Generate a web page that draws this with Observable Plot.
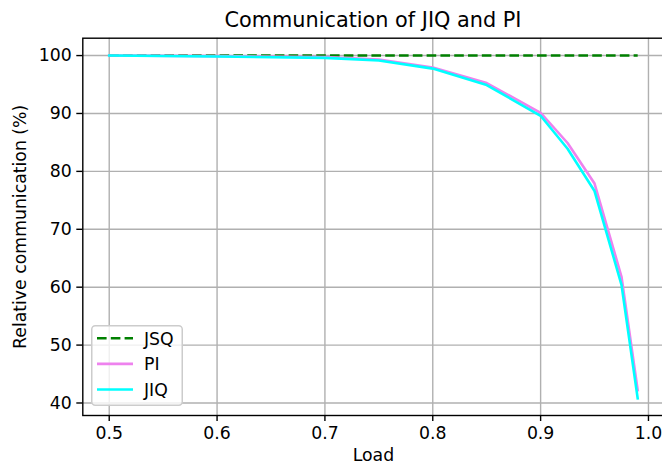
<!DOCTYPE html>
<html><head><meta charset="utf-8">
<script src="https://cdn.jsdelivr.net/npm/d3@7"></script>
<script src="https://cdn.jsdelivr.net/npm/@observablehq/plot@0.6"></script>
<style>
body{margin:0;background:#fff;}
#wrap{position:relative;width:662px;height:464px;font-family:"DejaVu Sans";overflow:hidden;}
#title{position:absolute;left:173px;width:400px;top:10px;text-align:center;font-size:20.8px;line-height:1;white-space:nowrap;}
#legend{position:absolute;left:91px;top:325px;}
</style></head><body>
<div id="wrap"><div id="chart"></div><div id="title">Communication of JIQ and PI</div><div id="legend"></div></div>
<script>
const load = [0.5, 0.6, 0.7, 0.75, 0.8, 0.85, 0.9, 0.925, 0.95, 0.975, 0.99];
const jsq  = [100.0, 100.0, 100.0, 100.0, 100.0, 100.0, 100.0, 100.0, 100.0, 100.0, 100.0];
const pi   = [100.0, 99.9, 99.75, 99.3, 97.95, 95.25, 90.1, 84.9, 77.9, 61.8, 42.2];
const jiq  = [100.0, 99.85, 99.6, 99.15, 97.75, 94.9, 89.6, 83.9, 76.6, 60.4, 40.8];
const seriesNames = ["JSQ", "PI", "JIQ"];
const seriesColors = ["green", "violet", "cyan"];
const seriesDash = ["9.6,4.2", "none", "none"];
const xTicks = [0.5, 0.6, 0.7, 0.8, 0.9, 1.0];
const yTicks = [40, 50, 60, 70, 80, 90, 100];

const seriesValues = [jsq, pi, jiq];
const rows = [];
seriesValues.forEach((vals, si) => vals.forEach((v, i) => rows.push({series: seriesNames[si], load: load[i], value: v})));

const lineMarks = seriesNames.map((name, si) => Plot.line(rows.filter(d => d.series === name), {
  x: "load", y: "value", stroke: seriesColors[si], strokeWidth: 2.6,
  strokeDasharray: seriesDash[si], strokeLinejoin: "round", strokeLinecap: si === 0 ? "butt" : "square"
}));

const chart = Plot.plot({
  width: 662, height: 464,
  marginTop: 37.7, marginBottom: 49, marginLeft: 82.3, marginRight: -1.6,
  style: {fontFamily: "DejaVu Sans", fontSize: "17.3px", color: "black", background: "white"},
  x: {domain: [0.4755, 1.0145]},
  y: {domain: [37.84, 103.0]},
  marks: [
    Plot.gridX(xTicks, {stroke: "#b0b0b0", strokeOpacity: 1, strokeWidth: 1.4}),
    Plot.gridY(yTicks, {stroke: "#b0b0b0", strokeOpacity: 1, strokeWidth: 1.4}),
    ...lineMarks,
    Plot.axisX({ticks: xTicks, tickSize: 6, tickPadding: 5, tickFormat: d => d.toFixed(1), strokeWidth: 1.4,
      label: "Load", labelAnchor: "center", labelArrow: "none", labelOffset: 45.5, fontSize: 17.3}),
    Plot.axisY({ticks: yTicks, tickSize: 6, tickPadding: 5, tickFormat: d => String(d), strokeWidth: 1.4,
      label: "Relative communication (%)", labelAnchor: "center", labelArrow: "none", labelOffset: 69, fontSize: 17.3}),
    Plot.frame({stroke: "black", strokeWidth: 1.4})
  ]
});
document.getElementById("chart").appendChild(chart);

// legend
const lw = 92, lh = 81, fs = 17.3;
const ns = "http://www.w3.org/2000/svg";
const lsvg = document.createElementNS(ns, "svg");
lsvg.setAttribute("width", lw); lsvg.setAttribute("height", lh);
lsvg.style.display = "block";
const box = document.createElementNS(ns, "rect");
box.setAttribute("x", 0.75); box.setAttribute("y", 0.75);
box.setAttribute("width", lw - 1.5); box.setAttribute("height", lh - 1.5);
box.setAttribute("rx", 3.5);
box.setAttribute("fill", "rgba(255,255,255,0.8)");
box.setAttribute("stroke", "#cccccc"); box.setAttribute("stroke-width", 1.5);
lsvg.appendChild(box);
seriesNames.forEach((name, i) => {
  const cy = 13.3 + i * 25.6;
  const ln = document.createElementNS(ns, "line");
  ln.setAttribute("x1", 6); ln.setAttribute("x2", 42);
  ln.setAttribute("y1", cy); ln.setAttribute("y2", cy);
  ln.setAttribute("stroke", seriesColors[i]); ln.setAttribute("stroke-width", 2.6);
  if (seriesDash[i] !== "none") ln.setAttribute("stroke-dasharray", seriesDash[i]);
  lsvg.appendChild(ln);
  const t = document.createElementNS(ns, "text");
  t.setAttribute("x", 53); t.setAttribute("y", cy + 6.2);
  t.setAttribute("font-family", "DejaVu Sans"); t.setAttribute("font-size", fs);
  t.textContent = name;
  lsvg.appendChild(t);
});
document.getElementById("legend").appendChild(lsvg);
</script>
</body></html>
